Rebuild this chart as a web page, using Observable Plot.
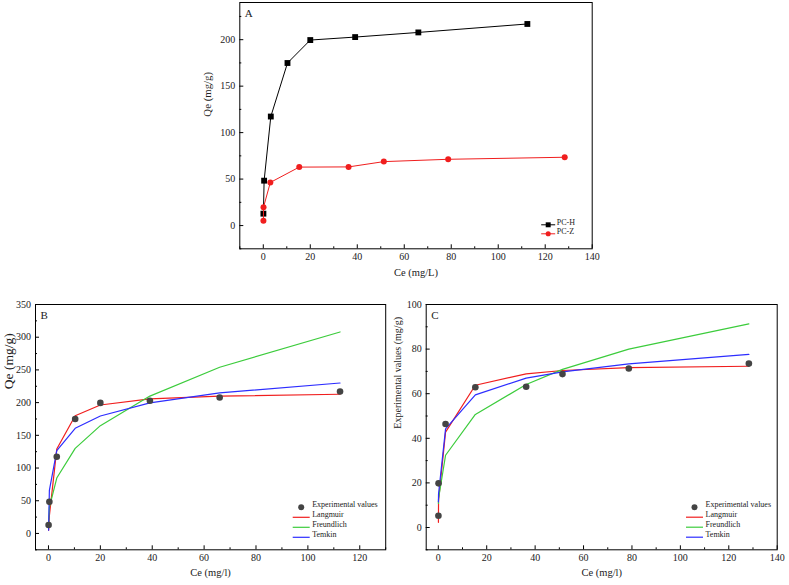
<!DOCTYPE html>
<html><head><meta charset="utf-8">
<script src="https://cdn.jsdelivr.net/npm/d3@7"></script>
<script src="https://cdn.jsdelivr.net/npm/@observablehq/plot@0.6"></script>
<style>
html,body{margin:0;padding:0;background:#fff;}
#wrap{position:relative;width:789px;height:585px;overflow:hidden;background:#fff;}
.p{position:absolute;}
.p svg{background:transparent !important;overflow:visible;}
</style></head>
<body>
<div id="wrap">
  <div class="p" id="pa" style="left:200px;top:0px"></div>
  <div class="p" id="pb" style="left:0px;top:290px"></div>
  <div class="p" id="pc" style="left:390px;top:290px"></div>
</div>
<script>
// ---- data ----
const ceH = [0.05, 0.35, 3.2, 10.3, 20.0, 39.1, 66.0, 112.4];
const qeH = [12.8, 48.3, 117.3, 174.9, 199.6, 202.8, 207.8, 216.9];
const ceZ = [0.05, 0.1, 3.0, 15.3, 36.3, 51.3, 78.7, 128.3];
const qeZ = [5.3, 19.8, 46.4, 62.9, 63.1, 68.8, 71.3, 73.5];

const langB = [5, 27, 129, 180, 196.4, 205.6, 210, 212.8];
const freuB = [15, 40, 84.7, 130, 164.8, 210, 254, 308];
const temB  = [5, 66, 126.5, 160.7, 179.6, 199.5, 214.8, 230];

const langC = [2.3, 12, 42.8, 63.8, 68.9, 70.4, 71.7, 72.3];
const freuC = [10.8, 13, 32.4, 50.7, 64.1, 70.9, 80.0, 91.3];
const temC  = [11.5, 15, 44.2, 59.5, 67.0, 69.8, 73.4, 77.6];

const seriesA = ["PC-H", "PC-Z"];
const fitNames = ["Experimental values", "Langmuir", "Freundlich", "Temkin"];

const xMajA = [0, 20, 40, 60, 80, 100, 120, 140];
const xMinA = [-10, 10, 30, 50, 70, 90, 110, 130];
const yMajA = [0, 50, 100, 150, 200];
const yMinA = [-25, 25, 75, 125, 175, 225];

const xMajB = [0, 20, 40, 60, 80, 100, 120];
const xMinB = [10, 30, 50, 70, 90, 110, 130];
const yMajB = [0, 50, 100, 150, 200, 250, 300, 350];
const yMinB = [-25, 25, 75, 125, 175, 225, 275, 325];

const xMajC = [0, 20, 40, 60, 80, 100, 120, 140];
const xMinC = [10, 30, 50, 70, 90, 110, 130];
const yMajC = [0, 20, 40, 60, 80, 100];
const yMinC = [-10, 10, 30, 50, 70, 90];

// ---- styling ----
const FONT = "'Liberation Serif', 'Times New Roman', serif";
const RED = "#f01e1e", GREEN = "#3ccc3c", BLUE = "#2d2dff", GREY = "#444444";

const rows = (xs, ys) => xs.map((x, i) => ({x, y: ys[i]}));

function lineSym(h) {
  return {draw(ctx) { ctx.moveTo(-h, 0); ctx.lineTo(h, 0); }};
}

function panel(o) {
  return Plot.plot({
    width: o.width, height: o.height,
    marginTop: o.mt, marginRight: o.mr, marginBottom: o.mb, marginLeft: o.ml,
    style: {fontFamily: FONT, background: "transparent", color: "#000", overflow: "visible", fontWeight: "normal"},
    x: {domain: o.xd, label: null},
    y: {domain: o.yd, label: null},
    marks: [
      ...o.marks,
      Plot.frame({stroke: "#000", strokeWidth: 1}),
      Plot.axisX(o.xMaj, {tickSize: -4, tickPadding: 8.5, fontSize: 10, label: null, fill: "#222"}),
      Plot.axisX(o.xMin, {tickSize: -2, tickFormat: () => "", label: null}),
      Plot.axisY(o.yMaj, {tickSize: -4, tickPadding: 8.5, fontSize: 10, label: null, fill: "#222"}),
      Plot.axisY(o.yMin, {tickSize: -2, tickFormat: () => "", label: null}),
      Plot.text([o.xTitle], {text: d => d, frameAnchor: "bottom", dy: o.xtDy, fontSize: 10.5, fontWeight: "normal", fill: "#222"}),
      Plot.text([o.yTitle], {text: d => d, frameAnchor: "left", dx: o.ytDx, dy: o.ytDy, rotate: -90, fontSize: o.ytSize, fontWeight: "normal", fill: "#222"}),
      Plot.text([o.letter], {text: d => d, frameAnchor: "top-left", dx: 5, dy: 7, textAnchor: "start", lineAnchor: "top", fontSize: 11, fill: "#222"})
    ]
  });
}

// ---- Panel A ----
const rH = rows(ceH, qeH), rZ = rows(ceZ, qeZ);
const legA = [];
[["#000", "square", 3.3], [RED, "circle", 3]].forEach(([c, s, r], i) => {
  const dy = -24 + i * 9;
  legA.push(Plot.dot([0], {frameAnchor: "bottom-right", dx: -44, dy, symbol: lineSym(7), stroke: c, fill: "none", strokeWidth: 1}));
  legA.push(Plot.dot([0], {frameAnchor: "bottom-right", dx: -44, dy, symbol: s, r: r * 0.85, fill: c, stroke: "none"}));
  legA.push(Plot.text([seriesA[i]], {text: d => d, frameAnchor: "bottom-right", dx: -35.5, dy, textAnchor: "start", fontSize: 8, fill: "#222"}));
});
document.getElementById("pa").append(panel({
  width: 420, height: 290, mt: 2, mr: 28.3, mb: 41.7, ml: 39.3,
  xd: [-10, 140], yd: [-25, 240],
  xMaj: xMajA, xMin: xMinA, yMaj: yMajA, yMin: yMinA,
  xTitle: "Ce (mg/L)", yTitle: "Qe (mg/g)", xtDy: 27.4, ytDx: -32.3, ytDy: -9, ytSize: 10.8, letter: "A",
  marks: [
    Plot.line(rH, {x: "x", y: "y", stroke: "#000", strokeWidth: 1}),
    Plot.dot(rH, {x: "x", y: "y", symbol: "square", r: 3.3, fill: "#000", stroke: "none"}),
    Plot.line(rZ, {x: "x", y: "y", stroke: RED, strokeWidth: 1}),
    Plot.dot(rZ, {x: "x", y: "y", symbol: "circle", r: 3, fill: RED, stroke: "none"}),
    ...legA
  ]
}));

// ---- fit panels ----
function fitLegend(dxSym, dxText, dy0, half) {
  const out = [];
  const colors = [null, RED, GREEN, BLUE];
  fitNames.forEach((name, i) => {
    const dy = dy0 + i * 10;
    if (i === 0) out.push(Plot.dot([0], {frameAnchor: "bottom-right", dx: dxSym, dy, r: 3, fill: GREY, stroke: "none"}));
    else out.push(Plot.dot([0], {frameAnchor: "bottom-right", dx: dxSym, dy, symbol: lineSym(half), stroke: colors[i], fill: "none", strokeWidth: 1.2}));
    out.push(Plot.text([name], {text: d => d, frameAnchor: "bottom-right", dx: dxText, dy, textAnchor: "start", fontSize: 8, fill: "#222"}));
  });
  return out;
}

function fitMarks(ce, qe, l, f, t) {
  return [
    Plot.line(rows(ce, l), {x: "x", y: "y", stroke: RED, strokeWidth: 1.2}),
    Plot.line(rows(ce, f), {x: "x", y: "y", stroke: GREEN, strokeWidth: 1.2}),
    Plot.line(rows(ce, t), {x: "x", y: "y", stroke: BLUE, strokeWidth: 1.2}),
    Plot.dot(rows(ce, qe), {x: "x", y: "y", r: 3.3, fill: GREY, stroke: "none"})
  ];
}

document.getElementById("pb").append(panel({
  width: 395, height: 295, mt: 14, mr: 9.8, mb: 35.7, ml: 35,
  xd: [-5, 130], yd: [-25, 350],
  xMaj: xMajB, xMin: xMinB, yMaj: yMajB, yMin: yMinB,
  xTitle: "Ce (mg/l)", yTitle: "Qe (mg/g)", xtDy: 25.7, ytDx: -27, ytDy: -38, ytSize: 13.5, letter: "B",
  marks: [...fitMarks(ceH, qeH, langB, freuB, temB), ...fitLegend(-84.5, -73.5, -42.5, 8.5)]
}));

document.getElementById("pc").append(panel({
  width: 399, height: 295, mt: 14, mr: 12.3, mb: 35.7, ml: 35.7,
  xd: [-5, 140], yd: [-10, 100],
  xMaj: xMajC, xMin: xMinC, yMaj: yMajC, yMin: yMinC,
  xTitle: "Ce (mg/l)", yTitle: "Experimental values (mg/g)", xtDy: 25.7, ytDx: -28.7, ytDy: 1.5, ytSize: 10, letter: "C",
  marks: [...fitMarks(ceZ, qeZ, langC, freuC, temC), ...fitLegend(-82.7, -71.7, -42.6, 8.5)]
}));
</script>
</body></html>
